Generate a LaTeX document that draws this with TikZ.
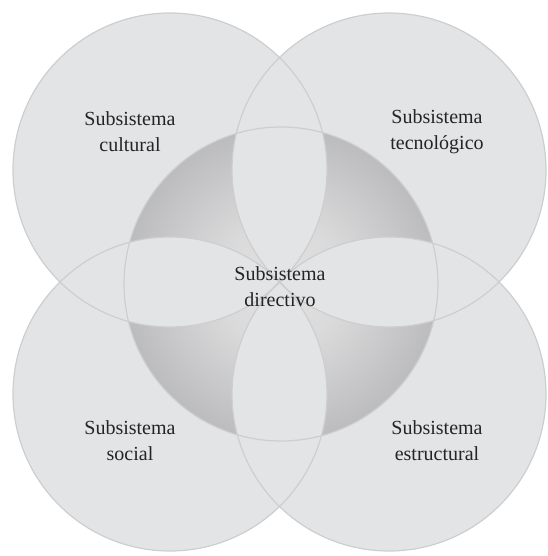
\documentclass[tikz,border=0pt]{standalone}
\usepackage{fontspec}
\setmainfont{Liberation Serif}
\definecolor{cfill}{HTML}{E3E4E6}
\definecolor{cline}{HTML}{CDCED0}
\definecolor{shc}{HTML}{E2E2E3}
\definecolor{shm}{HTML}{DADADB}
\definecolor{she}{HTML}{BCBCBE}
\definecolor{txt}{HTML}{242426}
\pgfdeclareradialshading{dirshade}{\pgfpoint{0bp}{0bp}}{color(0bp)=(shc); color(10bp)=(shm); color(25bp)=(she); color(50bp)=(she)}
\tikzset{
  lbl/.style={font=\fontsize{20}{26}\selectfont, text=txt, align=center, inner sep=0pt},
  ring/.style={draw=cline, line width=1.2pt}
}
\begin{document}
\begin{tikzpicture}[x=1pt,y=-1pt]
\useasboundingbox (0,0) rectangle (547,556);
\coordinate (tl) at (170,170);
\coordinate (tr) at (389,170);
\coordinate (bl) at (170,394);
\coordinate (br) at (389,394);
\coordinate (ct) at (281,284);
\foreach \p in {tl,tr,bl,br} \fill[cfill] (\p) circle[radius=157pt];
\shade[shading=dirshade] (ct) circle[radius=157pt];
\foreach \a/\b in {tl/tr, tl/bl, tr/br, bl/br, tl/br, tr/bl} {
  \begin{scope}
    \clip (\a) circle[radius=157pt];
    \fill[cfill] (\b) circle[radius=157pt];
  \end{scope}
}
\foreach \p in {tl,tr,bl,br,ct} \draw[ring] (\p) circle[radius=157pt];
\node[lbl] (cul) at (130,132) {Subsistema\\cultural};
\node[lbl] (tec) at (437,132) {Subsistema\\tecnológico};
\node[lbl] (soc) at (130,441) {Subsistema\\social};
\node[lbl] (est) at (437,441) {Subsistema\\estructural};
\node[lbl] (dir) at (280,287) {Subsistema\\directivo};
\end{tikzpicture}
\end{document}
